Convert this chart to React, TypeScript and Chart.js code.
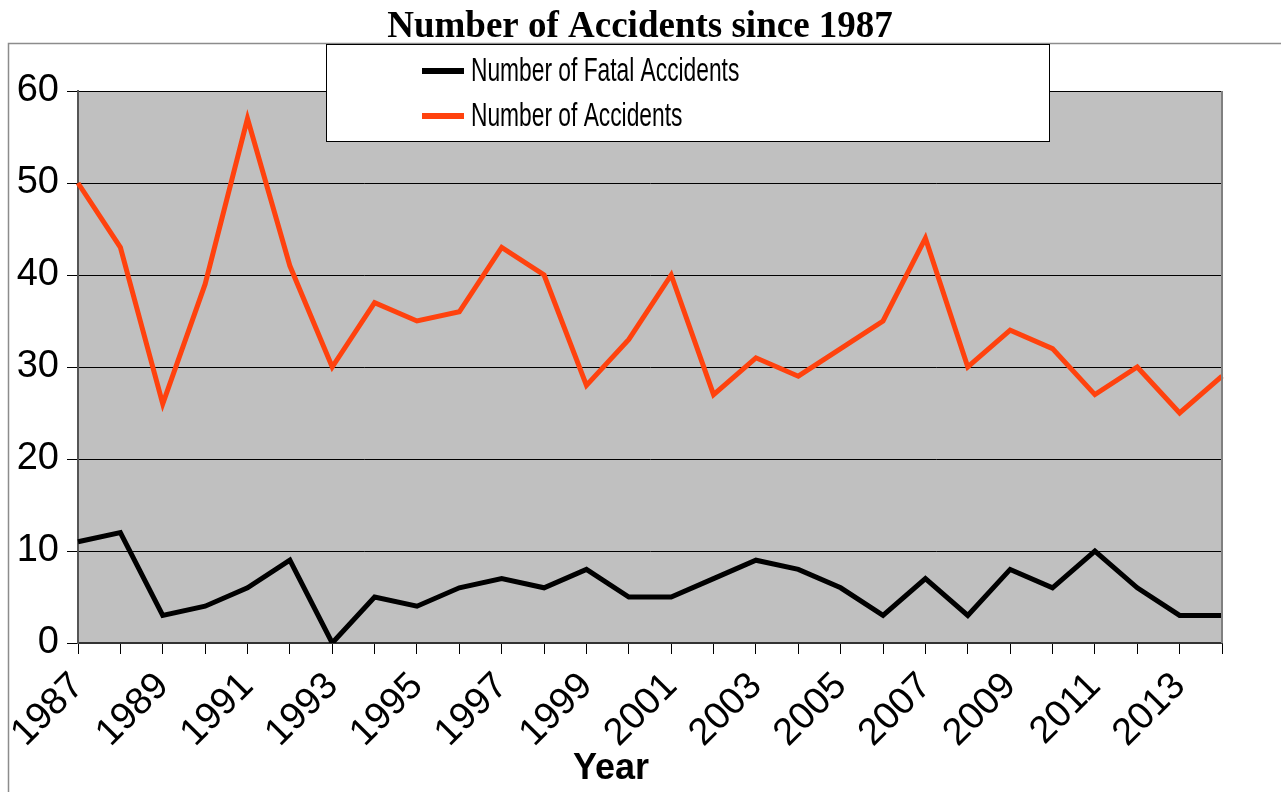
import React, { useEffect, useRef } from 'react';
import { Chart, registerables } from 'chart.js';
Chart.register(...registerables);

const years = [1987, 1988, 1989, 1990, 1991, 1992, 1993, 1994, 1995, 1996, 1997, 1998, 1999, 2000, 2001, 2002, 2003, 2004, 2005, 2006, 2007, 2008, 2009, 2010, 2011, 2012, 2013, 2014];
const fatalAccidents = [11, 12, 3, 4, 6, 9, 0, 5, 4, 6, 7, 6, 8, 5, 5, 7, 9, 8, 6, 3, 7, 3, 8, 6, 10, 6, 3, 3];
const allAccidents = [50, 43, 26, 39, 57, 41, 30, 37, 35, 36, 43, 40, 28, 33, 40, 27, 31, 29, 32, 35, 44, 30, 34, 32, 27, 30, 25, 29];
const seriesNames = ['Number of Fatal Accidents', 'Number of Accidents'];
const seriesColors = ['#000000', '#ff420e'];
const titleText = 'Number of Accidents since 1987';
const xTitle = 'Year';

const W = 1281;
const H = 792;
const tickFont = { family: '"Liberation Sans", Arial, sans-serif', size: 38 };

const decorPlugin = {
  id: 'decor',
  beforeDraw(chart: any) {
    const { ctx, chartArea } = chart;
    ctx.save();
    ctx.fillStyle = '#ffffff';
    ctx.fillRect(0, 0, W, H);
    ctx.strokeStyle = '#8c8c8c';
    ctx.lineWidth = 1.5;
    ctx.strokeRect(8.5, 43.5, W + 20, H);
    ctx.fillStyle = '#c0c0c0';
    ctx.fillRect(chartArea.left, chartArea.top, chartArea.right - chartArea.left, chartArea.bottom - chartArea.top);
    ctx.restore();
  },
  afterDraw(chart: any) {
    const { ctx, chartArea } = chart;
    ctx.save();
    // right border of plot
    ctx.strokeStyle = '#808080';
    ctx.lineWidth = 2;
    ctx.beginPath();
    ctx.moveTo(chartArea.right, chartArea.top);
    ctx.lineTo(chartArea.right, chartArea.bottom);
    ctx.stroke();
    // title
    ctx.fillStyle = '#000';
    ctx.font = 'bold 37px "Liberation Serif", "Times New Roman", serif';
    ctx.textAlign = 'center';
    ctx.textBaseline = 'alphabetic';
    ctx.fillText(titleText, 640, 37);
    // x title
    ctx.font = 'bold 36px "Liberation Sans", Arial, sans-serif';
    ctx.fillText(xTitle, 611, 779);
    // legend
    const lx = 326, ly = 44, lw = 723, lh = 97;
    ctx.fillStyle = '#ffffff';
    ctx.fillRect(lx, ly, lw, lh);
    ctx.strokeStyle = '#000';
    ctx.lineWidth = 1;
    ctx.strokeRect(lx + 0.5, ly + 0.5, lw, lh);
    const rows = [71, 116];
    seriesNames.forEach((name, i) => {
      ctx.strokeStyle = seriesColors[i];
      ctx.lineWidth = 6;
      ctx.beginPath();
      ctx.moveTo(422, rows[i]);
      ctx.lineTo(464, rows[i]);
      ctx.stroke();
      ctx.save();
      ctx.translate(471, rows[i] + 1);
      ctx.scale(0.69, 1);
      ctx.font = '33px "Liberation Sans", Arial, sans-serif';
      ctx.textAlign = 'left';
      ctx.textBaseline = 'middle';
      ctx.fillStyle = '#000';
      ctx.fillText(name, 0, 0);
      ctx.restore();
    });
    ctx.restore();
  },
};

export default function App() {
  const ref = useRef<HTMLCanvasElement>(null);
  useEffect(() => {
    const chart = new Chart(ref.current!, {
      type: 'line',
      data: {
        labels: years.map(String),
        datasets: [
          { label: seriesNames[0], data: fatalAccidents, borderColor: seriesColors[0], backgroundColor: seriesColors[0], borderWidth: 5, pointRadius: 0, tension: 0, borderJoinStyle: 'miter' },
          { label: seriesNames[1], data: allAccidents, borderColor: seriesColors[1], backgroundColor: seriesColors[1], borderWidth: 5, pointRadius: 0, tension: 0, borderJoinStyle: 'miter' },
        ],
      },
      options: {
        responsive: false,
        animation: false,
        devicePixelRatio: 1,
        layout: { padding: { top: 91, right: 59, left: 0, bottom: 0 } },
        plugins: { legend: { display: false }, title: { display: false }, tooltip: { enabled: false } },
        scales: {
          x: {
            offset: false,
            grid: { drawOnChartArea: false, tickLength: 11, color: '#000', lineWidth: 1 },
            border: { color: '#333', width: 2 },
            ticks: {
              autoSkip: false,
              maxRotation: 45,
              minRotation: 45,
              padding: 10,
              color: '#000',
              font: tickFont,
              callback: (_v: any, i: number) => (i % 2 === 0 ? String(years[i]) : ''),
            },
            afterFit: (s: any) => { s.height = H - 643; },
          },
          y: {
            min: 0,
            max: 60,
            grid: { color: '#000', lineWidth: 1, tickLength: 11 },
            border: { color: '#555', width: 2 },
            ticks: { stepSize: 10, color: '#000', font: tickFont, padding: 8 },
            afterFit: (s: any) => { s.width = 78; },
          },
        },
      },
      plugins: [decorPlugin],
    } as any);
    return () => chart.destroy();
  }, []);
  return (
    <div style={{ position: 'absolute', left: 0, top: 0, width: W, height: H }}>
      <canvas ref={ref} width={W} height={H} style={{ display: 'block', width: W, height: H }} />
    </div>
  );
}
